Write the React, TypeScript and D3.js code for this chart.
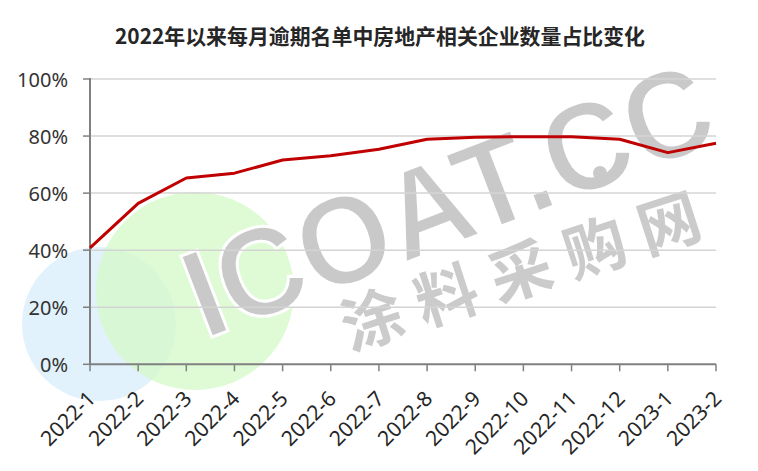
import React, { useEffect } from "react";
import * as d3 from "d3";

// chart data
const months = [
  "2022-1", "2022-2", "2022-3", "2022-4", "2022-5", "2022-6", "2022-7",
  "2022-8", "2022-9", "2022-10", "2022-11", "2022-12", "2023-1", "2023-2",
];
const shares = [40.8, 56.4, 65.3, 67.0, 71.6, 73.1, 75.4, 78.9, 79.6, 79.8, 79.8, 78.9, 74.2, 77.5];
const yTicks = [0, 20, 40, 60, 80, 100];
const title = "2022年以来每月逾期名单中房地产相关企业数量占比变化";

const W = 758;
const H = 471;
const left = 90, right = 716, top = 79, bottom = 364.3;
const font = "'Noto Sans', 'Noto Sans CJK SC', sans-serif";

export default function App() {
  useEffect(() => {
    document.body.style.margin = "0";
  }, []);

  const x = d3.scalePoint<string>().domain(months).range([left, right]);
  const y = d3.scaleLinear().domain([0, 100]).range([bottom, top]);
  const line = d3
    .line<number>()
    .x((_, i) => x(months[i]) as number)
    .y((d) => y(d));

  return (
    <svg width={W} height={H} style={{ display: "block", background: "#fff" }}>
      {/* watermark */}
      <g>
        <circle cx={99} cy={324} r={77} fill="#dcf0fb" opacity={0.85} />
        <circle cx={195} cy={291} r={99} fill="#d4f9c8" opacity={0.75} />
        <text
          x={448}
          y={200}
          transform="rotate(-21 448 200)"
          textAnchor="middle"
          dominantBaseline="central"
          fontFamily="'Liberation Sans', Arial, sans-serif"
          fontWeight="bold"
          fontSize={126}
          fill="#c9c9c9"
          stroke="#fff"
          strokeWidth={3}
          textLength={555}
          lengthAdjust="spacingAndGlyphs"
        >
          ICOAT.CC
        </text>
        <circle cx={600} cy={173} r={7} fill="#c9c9c9" />
        <text
          x={527}
          y={265}
          transform="rotate(-18 527 265)"
          textAnchor="middle"
          dominantBaseline="central"
          fontFamily="'Noto Sans CJK SC', sans-serif"
          fontWeight="bold"
          fontSize={62}
          fill="#cbcbcb"
          letterSpacing={16}
        >
          涂料采购网
        </text>
      </g>

      <text
        x={380}
        y={44}
        textAnchor="middle"
        fontFamily="'Noto Sans CJK SC', sans-serif"
        fontWeight="bold"
        fontSize={21}
        fill="#262626"
        textLength={530}
        lengthAdjust="spacingAndGlyphs"
      >
        {title}
      </text>

      {/* grid + y axis */}
      {yTicks.map((t) => (
        <g key={t}>
          {t > 0 && (
            <line x1={left} x2={right} y1={y(t)} y2={y(t)} stroke="#d4d4d4" strokeWidth={1.5} />
          )}
          <line x1={left - 7} x2={left} y1={y(t)} y2={y(t)} stroke="#808080" strokeWidth={1.5} />
          <text
            x={68}
            y={y(t)}
            textAnchor="end"
            dominantBaseline="central"
            fontFamily={font}
            fontSize={20}
            fill="#333"
          >
            {t}%
          </text>
        </g>
      ))}
      <line x1={left} x2={left} y1={top - 1} y2={bottom} stroke="#808080" strokeWidth={2} />

      {/* x axis */}
      <line x1={left} x2={right} y1={bottom} y2={bottom} stroke="#808080" strokeWidth={2} />
      {months.map((m) => {
        const px = x(m) as number;
        const ax = px + 1;
        const ay = bottom + 30;
        return (
          <g key={m}>
            <line x1={px} x2={px} y1={bottom} y2={bottom + 7} stroke="#808080" strokeWidth={1.5} />
            <text
              x={ax}
              y={ay}
              transform={`rotate(-45 ${ax} ${ay})`}
              textAnchor="end"
              dominantBaseline="central"
              fontFamily={font}
              fontSize={21}
              fill="#262626"
            >
              {m}
            </text>
          </g>
        );
      })}

      <path d={line(shares) || ""} fill="none" stroke="#c00000" strokeWidth={3} strokeLinejoin="round" />
    </svg>
  );
}
